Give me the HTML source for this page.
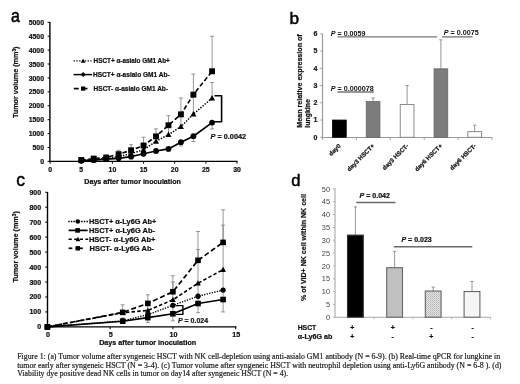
<!DOCTYPE html>
<html><head><meta charset="utf-8"><style>
html,body{margin:0;padding:0;background:#fff;width:520px;height:384px;overflow:hidden}
svg{display:block;filter:blur(0.4px)}
text.b{stroke:#111;stroke-width:0.22px}
</style></head><body>
<svg width="520" height="384" viewBox="0 0 520 384">
<defs><pattern id="stip" width="2" height="2" patternUnits="userSpaceOnUse"><rect width="2" height="2" fill="#e4e4e4"/><rect width="1" height="1" fill="#b4b4b4"/><rect x="1" y="1" width="1" height="1" fill="#c4c4c4"/></pattern></defs>
<rect width="520" height="384" fill="#fff"/>
<text x="10.90" y="21.70" font-size="18.5" font-weight="normal" text-anchor="start" fill="#000" font-family='"Liberation Sans", sans-serif' transform="translate(10.9 0) scale(0.86 1) translate(-10.9 0)" stroke="#000" stroke-width="0.55">a</text>
<line x1="49.90" y1="22.00" x2="49.90" y2="162.00" stroke="#000" stroke-width="1.4" stroke-linecap="butt"/>
<line x1="49.40" y1="161.40" x2="237.50" y2="161.40" stroke="#000" stroke-width="1.4" stroke-linecap="butt"/>
<line x1="47.60" y1="161.40" x2="49.90" y2="161.40" stroke="#000" stroke-width="1" stroke-linecap="butt"/>
<text x="44.00" y="164.00" font-size="6.9" font-weight="bold" text-anchor="end" fill="#111" font-family='"Liberation Sans", sans-serif' class="b" >0</text>
<line x1="47.60" y1="147.49" x2="49.90" y2="147.49" stroke="#000" stroke-width="1" stroke-linecap="butt"/>
<text x="44.00" y="150.09" font-size="6.9" font-weight="bold" text-anchor="end" fill="#111" font-family='"Liberation Sans", sans-serif' class="b" >500</text>
<line x1="47.60" y1="133.58" x2="49.90" y2="133.58" stroke="#000" stroke-width="1" stroke-linecap="butt"/>
<text x="44.00" y="136.18" font-size="6.9" font-weight="bold" text-anchor="end" fill="#111" font-family='"Liberation Sans", sans-serif' class="b" >1000</text>
<line x1="47.60" y1="119.67" x2="49.90" y2="119.67" stroke="#000" stroke-width="1" stroke-linecap="butt"/>
<text x="44.00" y="122.27" font-size="6.9" font-weight="bold" text-anchor="end" fill="#111" font-family='"Liberation Sans", sans-serif' class="b" >1500</text>
<line x1="47.60" y1="105.76" x2="49.90" y2="105.76" stroke="#000" stroke-width="1" stroke-linecap="butt"/>
<text x="44.00" y="108.36" font-size="6.9" font-weight="bold" text-anchor="end" fill="#111" font-family='"Liberation Sans", sans-serif' class="b" >2000</text>
<line x1="47.60" y1="91.85" x2="49.90" y2="91.85" stroke="#000" stroke-width="1" stroke-linecap="butt"/>
<text x="44.00" y="94.45" font-size="6.9" font-weight="bold" text-anchor="end" fill="#111" font-family='"Liberation Sans", sans-serif' class="b" >2500</text>
<line x1="47.60" y1="77.94" x2="49.90" y2="77.94" stroke="#000" stroke-width="1" stroke-linecap="butt"/>
<text x="44.00" y="80.54" font-size="6.9" font-weight="bold" text-anchor="end" fill="#111" font-family='"Liberation Sans", sans-serif' class="b" >3000</text>
<line x1="47.60" y1="64.03" x2="49.90" y2="64.03" stroke="#000" stroke-width="1" stroke-linecap="butt"/>
<text x="44.00" y="66.63" font-size="6.9" font-weight="bold" text-anchor="end" fill="#111" font-family='"Liberation Sans", sans-serif' class="b" >3500</text>
<line x1="47.60" y1="50.12" x2="49.90" y2="50.12" stroke="#000" stroke-width="1" stroke-linecap="butt"/>
<text x="44.00" y="52.72" font-size="6.9" font-weight="bold" text-anchor="end" fill="#111" font-family='"Liberation Sans", sans-serif' class="b" >4000</text>
<line x1="47.60" y1="36.21" x2="49.90" y2="36.21" stroke="#000" stroke-width="1" stroke-linecap="butt"/>
<text x="44.00" y="38.81" font-size="6.9" font-weight="bold" text-anchor="end" fill="#111" font-family='"Liberation Sans", sans-serif' class="b" >4500</text>
<line x1="47.60" y1="22.30" x2="49.90" y2="22.30" stroke="#000" stroke-width="1" stroke-linecap="butt"/>
<text x="44.00" y="24.90" font-size="6.9" font-weight="bold" text-anchor="end" fill="#111" font-family='"Liberation Sans", sans-serif' class="b" >5000</text>
<line x1="50.10" y1="161.40" x2="50.10" y2="163.70" stroke="#000" stroke-width="1" stroke-linecap="butt"/>
<text x="50.10" y="172.30" font-size="6.9" font-weight="bold" text-anchor="middle" fill="#111" font-family='"Liberation Sans", sans-serif' class="b" >0</text>
<line x1="81.25" y1="161.40" x2="81.25" y2="163.70" stroke="#000" stroke-width="1" stroke-linecap="butt"/>
<text x="81.25" y="172.30" font-size="6.9" font-weight="bold" text-anchor="middle" fill="#111" font-family='"Liberation Sans", sans-serif' class="b" >5</text>
<line x1="112.40" y1="161.40" x2="112.40" y2="163.70" stroke="#000" stroke-width="1" stroke-linecap="butt"/>
<text x="112.40" y="172.30" font-size="6.9" font-weight="bold" text-anchor="middle" fill="#111" font-family='"Liberation Sans", sans-serif' class="b" >10</text>
<line x1="143.55" y1="161.40" x2="143.55" y2="163.70" stroke="#000" stroke-width="1" stroke-linecap="butt"/>
<text x="143.55" y="172.30" font-size="6.9" font-weight="bold" text-anchor="middle" fill="#111" font-family='"Liberation Sans", sans-serif' class="b" >15</text>
<line x1="174.70" y1="161.40" x2="174.70" y2="163.70" stroke="#000" stroke-width="1" stroke-linecap="butt"/>
<text x="174.70" y="172.30" font-size="6.9" font-weight="bold" text-anchor="middle" fill="#111" font-family='"Liberation Sans", sans-serif' class="b" >20</text>
<line x1="205.85" y1="161.40" x2="205.85" y2="163.70" stroke="#000" stroke-width="1" stroke-linecap="butt"/>
<text x="205.85" y="172.30" font-size="6.9" font-weight="bold" text-anchor="middle" fill="#111" font-family='"Liberation Sans", sans-serif' class="b" >25</text>
<line x1="237.00" y1="161.40" x2="237.00" y2="163.70" stroke="#000" stroke-width="1" stroke-linecap="butt"/>
<text x="237.00" y="172.30" font-size="6.9" font-weight="bold" text-anchor="middle" fill="#111" font-family='"Liberation Sans", sans-serif' class="b" >30</text>
<text x="84.30" y="184.40" font-size="7.1" font-weight="bold" text-anchor="start" fill="#111" font-family='"Liberation Sans", sans-serif' textLength="96.60" lengthAdjust="spacingAndGlyphs" class="b" >Days after tumor inoculation</text>
<text x="18.00" y="118.10" font-size="7" font-weight="bold" text-anchor="start" fill="#111" font-family='"Liberation Sans", sans-serif' textLength="71.60" lengthAdjust="spacingAndGlyphs" transform="rotate(-90 18.00 118.10)" class="b" >Tumor volume (mm<tspan font-size="4.6" dy="-2.4">3</tspan><tspan dy="2.4">)</tspan></text>
<line x1="81.25" y1="160.01" x2="81.25" y2="159.17" stroke="#7e7e7e" stroke-width="0.8" stroke-linecap="butt"/>
<line x1="79.25" y1="159.17" x2="83.25" y2="159.17" stroke="#7e7e7e" stroke-width="0.8" stroke-linecap="butt"/>
<line x1="93.71" y1="158.62" x2="93.71" y2="157.23" stroke="#7e7e7e" stroke-width="0.8" stroke-linecap="butt"/>
<line x1="91.71" y1="157.23" x2="95.71" y2="157.23" stroke="#7e7e7e" stroke-width="0.8" stroke-linecap="butt"/>
<line x1="106.17" y1="157.51" x2="106.17" y2="155.28" stroke="#7e7e7e" stroke-width="0.8" stroke-linecap="butt"/>
<line x1="104.17" y1="155.28" x2="108.17" y2="155.28" stroke="#7e7e7e" stroke-width="0.8" stroke-linecap="butt"/>
<line x1="118.63" y1="154.17" x2="118.63" y2="150.27" stroke="#7e7e7e" stroke-width="0.8" stroke-linecap="butt"/>
<line x1="116.63" y1="150.27" x2="120.63" y2="150.27" stroke="#7e7e7e" stroke-width="0.8" stroke-linecap="butt"/>
<line x1="131.09" y1="150.27" x2="131.09" y2="144.71" stroke="#7e7e7e" stroke-width="0.8" stroke-linecap="butt"/>
<line x1="129.09" y1="144.71" x2="133.09" y2="144.71" stroke="#7e7e7e" stroke-width="0.8" stroke-linecap="butt"/>
<line x1="143.55" y1="145.54" x2="143.55" y2="137.20" stroke="#7e7e7e" stroke-width="0.8" stroke-linecap="butt"/>
<line x1="141.55" y1="137.20" x2="145.55" y2="137.20" stroke="#7e7e7e" stroke-width="0.8" stroke-linecap="butt"/>
<line x1="156.01" y1="136.36" x2="156.01" y2="128.85" stroke="#7e7e7e" stroke-width="0.8" stroke-linecap="butt"/>
<line x1="154.01" y1="128.85" x2="158.01" y2="128.85" stroke="#7e7e7e" stroke-width="0.8" stroke-linecap="butt"/>
<line x1="168.47" y1="125.23" x2="168.47" y2="115.78" stroke="#7e7e7e" stroke-width="0.8" stroke-linecap="butt"/>
<line x1="166.47" y1="115.78" x2="170.47" y2="115.78" stroke="#7e7e7e" stroke-width="0.8" stroke-linecap="butt"/>
<line x1="180.93" y1="114.38" x2="180.93" y2="97.97" stroke="#7e7e7e" stroke-width="0.8" stroke-linecap="butt"/>
<line x1="178.93" y1="97.97" x2="182.93" y2="97.97" stroke="#7e7e7e" stroke-width="0.8" stroke-linecap="butt"/>
<line x1="193.39" y1="94.63" x2="193.39" y2="74.05" stroke="#7e7e7e" stroke-width="0.8" stroke-linecap="butt"/>
<line x1="191.39" y1="74.05" x2="195.39" y2="74.05" stroke="#7e7e7e" stroke-width="0.8" stroke-linecap="butt"/>
<line x1="212.08" y1="71.26" x2="212.08" y2="36.21" stroke="#7e7e7e" stroke-width="0.8" stroke-linecap="butt"/>
<line x1="210.08" y1="36.21" x2="214.08" y2="36.21" stroke="#7e7e7e" stroke-width="0.8" stroke-linecap="butt"/>
<line x1="81.25" y1="160.57" x2="81.25" y2="160.01" stroke="#7e7e7e" stroke-width="0.8" stroke-linecap="butt"/>
<line x1="79.25" y1="160.01" x2="83.25" y2="160.01" stroke="#7e7e7e" stroke-width="0.8" stroke-linecap="butt"/>
<line x1="93.71" y1="159.73" x2="93.71" y2="158.90" stroke="#7e7e7e" stroke-width="0.8" stroke-linecap="butt"/>
<line x1="91.71" y1="158.90" x2="95.71" y2="158.90" stroke="#7e7e7e" stroke-width="0.8" stroke-linecap="butt"/>
<line x1="106.17" y1="158.62" x2="106.17" y2="157.23" stroke="#7e7e7e" stroke-width="0.8" stroke-linecap="butt"/>
<line x1="104.17" y1="157.23" x2="108.17" y2="157.23" stroke="#7e7e7e" stroke-width="0.8" stroke-linecap="butt"/>
<line x1="118.63" y1="156.67" x2="118.63" y2="154.17" stroke="#7e7e7e" stroke-width="0.8" stroke-linecap="butt"/>
<line x1="116.63" y1="154.17" x2="120.63" y2="154.17" stroke="#7e7e7e" stroke-width="0.8" stroke-linecap="butt"/>
<line x1="131.09" y1="153.61" x2="131.09" y2="150.27" stroke="#7e7e7e" stroke-width="0.8" stroke-linecap="butt"/>
<line x1="129.09" y1="150.27" x2="133.09" y2="150.27" stroke="#7e7e7e" stroke-width="0.8" stroke-linecap="butt"/>
<line x1="143.55" y1="149.72" x2="143.55" y2="145.54" stroke="#7e7e7e" stroke-width="0.8" stroke-linecap="butt"/>
<line x1="141.55" y1="145.54" x2="145.55" y2="145.54" stroke="#7e7e7e" stroke-width="0.8" stroke-linecap="butt"/>
<line x1="156.01" y1="141.37" x2="156.01" y2="136.36" stroke="#7e7e7e" stroke-width="0.8" stroke-linecap="butt"/>
<line x1="154.01" y1="136.36" x2="158.01" y2="136.36" stroke="#7e7e7e" stroke-width="0.8" stroke-linecap="butt"/>
<line x1="168.47" y1="134.69" x2="168.47" y2="125.23" stroke="#7e7e7e" stroke-width="0.8" stroke-linecap="butt"/>
<line x1="166.47" y1="125.23" x2="170.47" y2="125.23" stroke="#7e7e7e" stroke-width="0.8" stroke-linecap="butt"/>
<line x1="180.93" y1="126.62" x2="180.93" y2="114.38" stroke="#7e7e7e" stroke-width="0.8" stroke-linecap="butt"/>
<line x1="178.93" y1="114.38" x2="182.93" y2="114.38" stroke="#7e7e7e" stroke-width="0.8" stroke-linecap="butt"/>
<line x1="193.39" y1="114.11" x2="193.39" y2="94.63" stroke="#7e7e7e" stroke-width="0.8" stroke-linecap="butt"/>
<line x1="191.39" y1="94.63" x2="195.39" y2="94.63" stroke="#7e7e7e" stroke-width="0.8" stroke-linecap="butt"/>
<line x1="212.08" y1="98.11" x2="212.08" y2="82.53" stroke="#7e7e7e" stroke-width="0.8" stroke-linecap="butt"/>
<line x1="210.08" y1="82.53" x2="214.08" y2="82.53" stroke="#7e7e7e" stroke-width="0.8" stroke-linecap="butt"/>
<line x1="81.25" y1="160.84" x2="81.25" y2="161.12" stroke="#7e7e7e" stroke-width="0.8" stroke-linecap="butt"/>
<line x1="79.25" y1="161.12" x2="83.25" y2="161.12" stroke="#7e7e7e" stroke-width="0.8" stroke-linecap="butt"/>
<line x1="93.71" y1="160.15" x2="93.71" y2="160.57" stroke="#7e7e7e" stroke-width="0.8" stroke-linecap="butt"/>
<line x1="91.71" y1="160.57" x2="95.71" y2="160.57" stroke="#7e7e7e" stroke-width="0.8" stroke-linecap="butt"/>
<line x1="106.17" y1="159.17" x2="106.17" y2="160.01" stroke="#7e7e7e" stroke-width="0.8" stroke-linecap="butt"/>
<line x1="104.17" y1="160.01" x2="108.17" y2="160.01" stroke="#7e7e7e" stroke-width="0.8" stroke-linecap="butt"/>
<line x1="118.63" y1="158.34" x2="118.63" y2="159.17" stroke="#7e7e7e" stroke-width="0.8" stroke-linecap="butt"/>
<line x1="116.63" y1="159.17" x2="120.63" y2="159.17" stroke="#7e7e7e" stroke-width="0.8" stroke-linecap="butt"/>
<line x1="131.09" y1="156.67" x2="131.09" y2="158.06" stroke="#7e7e7e" stroke-width="0.8" stroke-linecap="butt"/>
<line x1="129.09" y1="158.06" x2="133.09" y2="158.06" stroke="#7e7e7e" stroke-width="0.8" stroke-linecap="butt"/>
<line x1="143.55" y1="153.75" x2="143.55" y2="155.84" stroke="#7e7e7e" stroke-width="0.8" stroke-linecap="butt"/>
<line x1="141.55" y1="155.84" x2="145.55" y2="155.84" stroke="#7e7e7e" stroke-width="0.8" stroke-linecap="butt"/>
<line x1="156.01" y1="150.97" x2="156.01" y2="153.05" stroke="#7e7e7e" stroke-width="0.8" stroke-linecap="butt"/>
<line x1="154.01" y1="153.05" x2="158.01" y2="153.05" stroke="#7e7e7e" stroke-width="0.8" stroke-linecap="butt"/>
<line x1="168.47" y1="148.88" x2="168.47" y2="150.83" stroke="#7e7e7e" stroke-width="0.8" stroke-linecap="butt"/>
<line x1="166.47" y1="150.83" x2="170.47" y2="150.83" stroke="#7e7e7e" stroke-width="0.8" stroke-linecap="butt"/>
<line x1="180.93" y1="142.20" x2="180.93" y2="145.82" stroke="#7e7e7e" stroke-width="0.8" stroke-linecap="butt"/>
<line x1="178.93" y1="145.82" x2="182.93" y2="145.82" stroke="#7e7e7e" stroke-width="0.8" stroke-linecap="butt"/>
<line x1="193.39" y1="136.22" x2="193.39" y2="141.51" stroke="#7e7e7e" stroke-width="0.8" stroke-linecap="butt"/>
<line x1="191.39" y1="141.51" x2="195.39" y2="141.51" stroke="#7e7e7e" stroke-width="0.8" stroke-linecap="butt"/>
<line x1="212.08" y1="122.59" x2="212.08" y2="128.99" stroke="#7e7e7e" stroke-width="0.8" stroke-linecap="butt"/>
<line x1="210.08" y1="128.99" x2="214.08" y2="128.99" stroke="#7e7e7e" stroke-width="0.8" stroke-linecap="butt"/>
<polyline points="81.25,160.84 93.71,160.15 106.17,159.17 118.63,158.34 131.09,156.67 143.55,153.75 156.01,150.97 168.47,148.88 180.93,142.20 193.39,136.22 212.08,122.59" fill="none" stroke="#000" stroke-width="1.7" stroke-linejoin="round"/>
<polyline points="81.25,160.57 93.71,159.73 106.17,158.62 118.63,156.67 131.09,153.61 143.55,149.72 156.01,141.37 168.47,134.69 180.93,126.62 193.39,114.11 212.08,98.11" fill="none" stroke="#000" stroke-width="1.5" stroke-linejoin="round" stroke-dasharray="1.4,1.4"/>
<polyline points="81.25,160.01 93.71,158.62 106.17,157.51 118.63,154.17 131.09,150.27 143.55,145.54 156.01,136.36 168.47,125.23 180.93,114.38 193.39,94.63 212.08,71.26" fill="none" stroke="#000" stroke-width="1.6" stroke-linejoin="round" stroke-dasharray="4.5,2.5"/>
<circle cx="81.25" cy="160.84" r="2.89" fill="#000"/>
<circle cx="93.71" cy="160.15" r="2.89" fill="#000"/>
<circle cx="106.17" cy="159.17" r="2.89" fill="#000"/>
<circle cx="118.63" cy="158.34" r="2.89" fill="#000"/>
<circle cx="131.09" cy="156.67" r="2.89" fill="#000"/>
<circle cx="143.55" cy="153.75" r="2.89" fill="#000"/>
<circle cx="156.01" cy="150.97" r="2.89" fill="#000"/>
<circle cx="168.47" cy="148.88" r="2.89" fill="#000"/>
<circle cx="180.93" cy="142.20" r="2.89" fill="#000"/>
<circle cx="193.39" cy="136.22" r="2.89" fill="#000"/>
<circle cx="212.08" cy="122.59" r="2.89" fill="#000"/>
<polygon points="81.25,157.43 84.24,162.99 78.26,162.99" fill="#000"/>
<polygon points="93.71,156.60 96.70,162.15 90.72,162.15" fill="#000"/>
<polygon points="106.17,155.48 109.16,161.04 103.18,161.04" fill="#000"/>
<polygon points="118.63,153.54 121.62,159.09 115.64,159.09" fill="#000"/>
<polygon points="131.09,150.48 134.08,156.03 128.10,156.03" fill="#000"/>
<polygon points="143.55,146.58 146.54,152.14 140.56,152.14" fill="#000"/>
<polygon points="156.01,138.23 159.00,143.79 153.02,143.79" fill="#000"/>
<polygon points="168.47,131.56 171.46,137.12 165.48,137.12" fill="#000"/>
<polygon points="180.93,123.49 183.92,129.05 177.94,129.05" fill="#000"/>
<polygon points="193.39,110.97 196.38,116.53 190.40,116.53" fill="#000"/>
<polygon points="212.08,94.97 215.07,100.53 209.09,100.53" fill="#000"/>
<rect x="78.30" y="157.06" width="5.90" height="5.90" fill="#000" stroke="none" stroke-width="0" />
<rect x="90.76" y="155.67" width="5.90" height="5.90" fill="#000" stroke="none" stroke-width="0" />
<rect x="103.22" y="154.56" width="5.90" height="5.90" fill="#000" stroke="none" stroke-width="0" />
<rect x="115.68" y="151.22" width="5.90" height="5.90" fill="#000" stroke="none" stroke-width="0" />
<rect x="128.14" y="147.32" width="5.90" height="5.90" fill="#000" stroke="none" stroke-width="0" />
<rect x="140.60" y="142.59" width="5.90" height="5.90" fill="#000" stroke="none" stroke-width="0" />
<rect x="153.06" y="133.41" width="5.90" height="5.90" fill="#000" stroke="none" stroke-width="0" />
<rect x="165.52" y="122.28" width="5.90" height="5.90" fill="#000" stroke="none" stroke-width="0" />
<rect x="177.98" y="111.43" width="5.90" height="5.90" fill="#000" stroke="none" stroke-width="0" />
<rect x="190.44" y="91.68" width="5.90" height="5.90" fill="#000" stroke="none" stroke-width="0" />
<rect x="209.13" y="68.31" width="5.90" height="5.90" fill="#000" stroke="none" stroke-width="0" />
<polyline points="214.50,95.70 221.60,95.70 221.60,121.80 214.50,121.80" fill="none" stroke="#000" stroke-width="1.6" stroke-linejoin="round"/>
<text x="210.60" y="139.00" font-size="7.2" font-weight="bold" text-anchor="start" fill="#111" font-family='"Liberation Sans", sans-serif' textLength="35.50" lengthAdjust="spacingAndGlyphs" class="b" ><tspan font-style="italic">P</tspan> = 0.0042</text>
<line x1="73.60" y1="60.90" x2="91.50" y2="60.90" stroke="#000" stroke-width="1.3" stroke-linecap="butt" stroke-dasharray="1.3,1.5"/>
<polygon points="83.10,58.48 85.41,62.77 80.79,62.77" fill="#000"/>
<line x1="73.60" y1="74.60" x2="92.20" y2="74.60" stroke="#000" stroke-width="1.5" stroke-linecap="butt"/>
<polygon points="83.20,72.10 85.70,74.60 83.20,77.10 80.70,74.60" fill="#000"/>
<line x1="73.80" y1="88.60" x2="78.70" y2="88.60" stroke="#000" stroke-width="1.7" stroke-linecap="butt"/>
<line x1="81.00" y1="88.60" x2="87.50" y2="88.60" stroke="#000" stroke-width="1.7" stroke-linecap="butt"/>
<rect x="81.00" y="86.50" width="4.20" height="4.20" fill="#000" stroke="none" stroke-width="0" />
<text x="93.60" y="63.20" font-size="6.6" font-weight="bold" text-anchor="start" fill="#111" font-family='"Liberation Sans", sans-serif' textLength="76.20" lengthAdjust="spacingAndGlyphs" class="b" >HSCT+ α-asialo GM1 Ab+</text>
<text x="93.00" y="76.90" font-size="6.6" font-weight="bold" text-anchor="start" fill="#111" font-family='"Liberation Sans", sans-serif' textLength="76.60" lengthAdjust="spacingAndGlyphs" class="b" >HSCT+ α-asialo GM1 Ab-</text>
<text x="93.60" y="90.90" font-size="6.6" font-weight="bold" text-anchor="start" fill="#111" font-family='"Liberation Sans", sans-serif' textLength="74.40" lengthAdjust="spacingAndGlyphs" class="b" >HSCT- α-asialo GM1 Ab-</text>
<text x="289.40" y="23.60" font-size="17.2" font-weight="normal" text-anchor="start" fill="#000" font-family='"Liberation Sans", sans-serif' stroke="#000" stroke-width="0.5">b</text>
<line x1="322.50" y1="33.60" x2="322.50" y2="137.80" stroke="#9c9c9c" stroke-width="1.2" stroke-linecap="butt"/>
<line x1="322.50" y1="137.50" x2="492.00" y2="137.50" stroke="#9c9c9c" stroke-width="1.2" stroke-linecap="butt"/>
<line x1="320.30" y1="137.30" x2="322.50" y2="137.30" stroke="#9c9c9c" stroke-width="1" stroke-linecap="butt"/>
<text x="317.30" y="139.70" font-size="7" font-weight="bold" text-anchor="end" fill="#222" font-family='"Liberation Sans", sans-serif' class="b" >0</text>
<line x1="320.30" y1="120.05" x2="322.50" y2="120.05" stroke="#9c9c9c" stroke-width="1" stroke-linecap="butt"/>
<text x="317.30" y="122.45" font-size="7" font-weight="bold" text-anchor="end" fill="#222" font-family='"Liberation Sans", sans-serif' class="b" >1</text>
<line x1="320.30" y1="102.80" x2="322.50" y2="102.80" stroke="#9c9c9c" stroke-width="1" stroke-linecap="butt"/>
<text x="317.30" y="105.20" font-size="7" font-weight="bold" text-anchor="end" fill="#222" font-family='"Liberation Sans", sans-serif' class="b" >2</text>
<line x1="320.30" y1="85.55" x2="322.50" y2="85.55" stroke="#9c9c9c" stroke-width="1" stroke-linecap="butt"/>
<text x="317.30" y="87.95" font-size="7" font-weight="bold" text-anchor="end" fill="#222" font-family='"Liberation Sans", sans-serif' class="b" >3</text>
<line x1="320.30" y1="68.30" x2="322.50" y2="68.30" stroke="#9c9c9c" stroke-width="1" stroke-linecap="butt"/>
<text x="317.30" y="70.70" font-size="7" font-weight="bold" text-anchor="end" fill="#222" font-family='"Liberation Sans", sans-serif' class="b" >4</text>
<line x1="320.30" y1="51.05" x2="322.50" y2="51.05" stroke="#9c9c9c" stroke-width="1" stroke-linecap="butt"/>
<text x="317.30" y="53.45" font-size="7" font-weight="bold" text-anchor="end" fill="#222" font-family='"Liberation Sans", sans-serif' class="b" >5</text>
<line x1="320.30" y1="33.80" x2="322.50" y2="33.80" stroke="#9c9c9c" stroke-width="1" stroke-linecap="butt"/>
<text x="317.30" y="36.20" font-size="7" font-weight="bold" text-anchor="end" fill="#222" font-family='"Liberation Sans", sans-serif' class="b" >6</text>
<line x1="322.50" y1="137.50" x2="322.50" y2="139.80" stroke="#9c9c9c" stroke-width="1" stroke-linecap="butt"/>
<line x1="356.40" y1="137.50" x2="356.40" y2="139.80" stroke="#9c9c9c" stroke-width="1" stroke-linecap="butt"/>
<line x1="390.30" y1="137.50" x2="390.30" y2="139.80" stroke="#9c9c9c" stroke-width="1" stroke-linecap="butt"/>
<line x1="424.20" y1="137.50" x2="424.20" y2="139.80" stroke="#9c9c9c" stroke-width="1" stroke-linecap="butt"/>
<line x1="458.10" y1="137.50" x2="458.10" y2="139.80" stroke="#9c9c9c" stroke-width="1" stroke-linecap="butt"/>
<line x1="492.00" y1="137.50" x2="492.00" y2="139.80" stroke="#9c9c9c" stroke-width="1" stroke-linecap="butt"/>
<rect x="332.55" y="120.05" width="13.70" height="17.25" fill="#000" stroke="#000" stroke-width="0.8" />
<line x1="373.10" y1="101.59" x2="373.10" y2="97.97" stroke="#8a8a8a" stroke-width="0.9" stroke-linecap="butt"/>
<line x1="371.50" y1="97.97" x2="374.70" y2="97.97" stroke="#8a8a8a" stroke-width="0.9" stroke-linecap="butt"/>
<rect x="366.25" y="101.59" width="13.70" height="35.71" fill="#7c7c7c" stroke="#666" stroke-width="0.8" />
<line x1="407.10" y1="104.53" x2="407.10" y2="85.55" stroke="#8a8a8a" stroke-width="0.9" stroke-linecap="butt"/>
<line x1="405.50" y1="85.55" x2="408.70" y2="85.55" stroke="#8a8a8a" stroke-width="0.9" stroke-linecap="butt"/>
<rect x="400.25" y="104.53" width="13.70" height="32.78" fill="#fff" stroke="#8a8a8a" stroke-width="1" />
<line x1="440.90" y1="68.82" x2="440.90" y2="39.84" stroke="#8a8a8a" stroke-width="0.9" stroke-linecap="butt"/>
<line x1="439.30" y1="39.84" x2="442.50" y2="39.84" stroke="#8a8a8a" stroke-width="0.9" stroke-linecap="butt"/>
<rect x="434.05" y="68.82" width="13.70" height="68.48" fill="#7c7c7c" stroke="#666" stroke-width="0.8" />
<line x1="474.70" y1="131.61" x2="474.70" y2="125.23" stroke="#8a8a8a" stroke-width="0.9" stroke-linecap="butt"/>
<line x1="473.10" y1="125.23" x2="476.30" y2="125.23" stroke="#8a8a8a" stroke-width="0.9" stroke-linecap="butt"/>
<rect x="467.85" y="131.61" width="13.70" height="5.69" fill="#fff" stroke="#8a8a8a" stroke-width="1" />
<line x1="337.50" y1="36.90" x2="437.00" y2="36.90" stroke="#777" stroke-width="1.35" stroke-linecap="butt"/>
<line x1="442.00" y1="36.90" x2="472.50" y2="36.90" stroke="#777" stroke-width="1.35" stroke-linecap="butt"/>
<line x1="337.50" y1="92.00" x2="373.80" y2="92.00" stroke="#777" stroke-width="1.35" stroke-linecap="butt"/>
<text x="330.80" y="35.70" font-size="7" font-weight="bold" text-anchor="start" fill="#111" font-family='"Liberation Sans", sans-serif' textLength="34.70" lengthAdjust="spacingAndGlyphs" stroke="none"><tspan font-style="italic">P</tspan> = 0.0059</text>
<text x="443.80" y="35.00" font-size="7" font-weight="bold" text-anchor="start" fill="#111" font-family='"Liberation Sans", sans-serif' textLength="35.00" lengthAdjust="spacingAndGlyphs" stroke="none"><tspan font-style="italic">P</tspan> = 0.0075</text>
<text x="330.80" y="90.70" font-size="7" font-weight="bold" text-anchor="start" fill="#111" font-family='"Liberation Sans", sans-serif' textLength="43.00" lengthAdjust="spacingAndGlyphs" stroke="none"><tspan font-style="italic">P</tspan> = 0.000078</text>
<text x="302.30" y="127.70" font-size="7.0" font-weight="bold" text-anchor="start" fill="#111" font-family='"Liberation Sans", sans-serif' textLength="93.40" lengthAdjust="spacingAndGlyphs" transform="rotate(-90 302.30 127.70)" class="b" >Mean relative expression of</text>
<text x="310.10" y="127.70" font-size="7.0" font-weight="bold" text-anchor="start" fill="#111" font-family='"Liberation Sans", sans-serif' textLength="28.50" lengthAdjust="spacingAndGlyphs" transform="rotate(-90 310.10 127.70)" class="b" >lungkine</text>
<text x="341.20" y="146.30" font-size="6.15" font-weight="bold" text-anchor="end" fill="#111" font-family='"Liberation Sans", sans-serif' transform="rotate(-45 341.20 146.30)" class="b" >day0</text>
<text x="374.90" y="146.30" font-size="6.15" font-weight="bold" text-anchor="end" fill="#111" font-family='"Liberation Sans", sans-serif' transform="rotate(-45 374.90 146.30)" class="b" >day3 HSCT+</text>
<text x="408.90" y="146.30" font-size="6.15" font-weight="bold" text-anchor="end" fill="#111" font-family='"Liberation Sans", sans-serif' transform="rotate(-45 408.90 146.30)" class="b" >day3 HSCT-</text>
<text x="442.70" y="146.30" font-size="6.15" font-weight="bold" text-anchor="end" fill="#111" font-family='"Liberation Sans", sans-serif' transform="rotate(-45 442.70 146.30)" class="b" >day6 HSCT+</text>
<text x="476.50" y="146.30" font-size="6.15" font-weight="bold" text-anchor="end" fill="#111" font-family='"Liberation Sans", sans-serif' transform="rotate(-45 476.50 146.30)" class="b" >day6 HSCT-</text>
<text x="16.30" y="185.50" font-size="17.5" font-weight="normal" text-anchor="start" fill="#000" font-family='"Liberation Sans", sans-serif' stroke="#000" stroke-width="0.5">c</text>
<line x1="47.50" y1="192.00" x2="47.50" y2="327.50" stroke="#000" stroke-width="1.4" stroke-linecap="butt"/>
<line x1="47.00" y1="326.90" x2="236.50" y2="326.90" stroke="#000" stroke-width="1.4" stroke-linecap="butt"/>
<line x1="45.20" y1="326.90" x2="47.50" y2="326.90" stroke="#000" stroke-width="1" stroke-linecap="butt"/>
<text x="41.10" y="329.40" font-size="7.0" font-weight="bold" text-anchor="end" fill="#111" font-family='"Liberation Sans", sans-serif' class="b" >0</text>
<line x1="45.20" y1="311.94" x2="47.50" y2="311.94" stroke="#000" stroke-width="1" stroke-linecap="butt"/>
<text x="41.10" y="314.44" font-size="7.0" font-weight="bold" text-anchor="end" fill="#111" font-family='"Liberation Sans", sans-serif' class="b" >100</text>
<line x1="45.20" y1="296.98" x2="47.50" y2="296.98" stroke="#000" stroke-width="1" stroke-linecap="butt"/>
<text x="41.10" y="299.48" font-size="7.0" font-weight="bold" text-anchor="end" fill="#111" font-family='"Liberation Sans", sans-serif' class="b" >200</text>
<line x1="45.20" y1="282.02" x2="47.50" y2="282.02" stroke="#000" stroke-width="1" stroke-linecap="butt"/>
<text x="41.10" y="284.52" font-size="7.0" font-weight="bold" text-anchor="end" fill="#111" font-family='"Liberation Sans", sans-serif' class="b" >300</text>
<line x1="45.20" y1="267.06" x2="47.50" y2="267.06" stroke="#000" stroke-width="1" stroke-linecap="butt"/>
<text x="41.10" y="269.56" font-size="7.0" font-weight="bold" text-anchor="end" fill="#111" font-family='"Liberation Sans", sans-serif' class="b" >400</text>
<line x1="45.20" y1="252.10" x2="47.50" y2="252.10" stroke="#000" stroke-width="1" stroke-linecap="butt"/>
<text x="41.10" y="254.60" font-size="7.0" font-weight="bold" text-anchor="end" fill="#111" font-family='"Liberation Sans", sans-serif' class="b" >500</text>
<line x1="45.20" y1="237.14" x2="47.50" y2="237.14" stroke="#000" stroke-width="1" stroke-linecap="butt"/>
<text x="41.10" y="239.64" font-size="7.0" font-weight="bold" text-anchor="end" fill="#111" font-family='"Liberation Sans", sans-serif' class="b" >600</text>
<line x1="45.20" y1="222.18" x2="47.50" y2="222.18" stroke="#000" stroke-width="1" stroke-linecap="butt"/>
<text x="41.10" y="224.68" font-size="7.0" font-weight="bold" text-anchor="end" fill="#111" font-family='"Liberation Sans", sans-serif' class="b" >700</text>
<line x1="45.20" y1="207.22" x2="47.50" y2="207.22" stroke="#000" stroke-width="1" stroke-linecap="butt"/>
<text x="41.10" y="209.72" font-size="7.0" font-weight="bold" text-anchor="end" fill="#111" font-family='"Liberation Sans", sans-serif' class="b" >800</text>
<line x1="45.20" y1="192.26" x2="47.50" y2="192.26" stroke="#000" stroke-width="1" stroke-linecap="butt"/>
<text x="41.10" y="194.76" font-size="7.0" font-weight="bold" text-anchor="end" fill="#111" font-family='"Liberation Sans", sans-serif' class="b" >900</text>
<line x1="47.40" y1="326.90" x2="47.40" y2="329.20" stroke="#000" stroke-width="1" stroke-linecap="butt"/>
<text x="47.90" y="337.00" font-size="7.2" font-weight="bold" text-anchor="middle" fill="#111" font-family='"Liberation Sans", sans-serif' class="b" >0</text>
<line x1="110.15" y1="326.90" x2="110.15" y2="329.20" stroke="#000" stroke-width="1" stroke-linecap="butt"/>
<text x="110.65" y="337.00" font-size="7.2" font-weight="bold" text-anchor="middle" fill="#111" font-family='"Liberation Sans", sans-serif' class="b" >5</text>
<line x1="172.90" y1="326.90" x2="172.90" y2="329.20" stroke="#000" stroke-width="1" stroke-linecap="butt"/>
<text x="173.40" y="337.00" font-size="7.2" font-weight="bold" text-anchor="middle" fill="#111" font-family='"Liberation Sans", sans-serif' class="b" >10</text>
<line x1="235.65" y1="326.90" x2="235.65" y2="329.20" stroke="#000" stroke-width="1" stroke-linecap="butt"/>
<text x="236.15" y="337.00" font-size="7.2" font-weight="bold" text-anchor="middle" fill="#111" font-family='"Liberation Sans", sans-serif' class="b" >15</text>
<text x="99.20" y="345.00" font-size="7" font-weight="bold" text-anchor="start" fill="#111" font-family='"Liberation Sans", sans-serif' textLength="97.00" lengthAdjust="spacingAndGlyphs" class="b" >Days after tumor inoculation</text>
<text x="18.30" y="282.60" font-size="7" font-weight="bold" text-anchor="start" fill="#111" font-family='"Liberation Sans", sans-serif' textLength="71.40" lengthAdjust="spacingAndGlyphs" transform="rotate(-90 18.30 282.60)" class="b" >Tumor volume (mm<tspan font-size="4.6" dy="-2.4">3</tspan><tspan dy="2.4">)</tspan></text>
<line x1="122.70" y1="312.39" x2="122.70" y2="304.76" stroke="#7e7e7e" stroke-width="0.8" stroke-linecap="butt"/>
<line x1="120.70" y1="304.76" x2="124.70" y2="304.76" stroke="#7e7e7e" stroke-width="0.8" stroke-linecap="butt"/>
<line x1="147.80" y1="303.41" x2="147.80" y2="294.74" stroke="#7e7e7e" stroke-width="0.8" stroke-linecap="butt"/>
<line x1="145.80" y1="294.74" x2="149.80" y2="294.74" stroke="#7e7e7e" stroke-width="0.8" stroke-linecap="butt"/>
<line x1="172.90" y1="291.74" x2="172.90" y2="275.74" stroke="#7e7e7e" stroke-width="0.8" stroke-linecap="butt"/>
<line x1="170.90" y1="275.74" x2="174.90" y2="275.74" stroke="#7e7e7e" stroke-width="0.8" stroke-linecap="butt"/>
<line x1="198.00" y1="260.33" x2="198.00" y2="231.46" stroke="#7e7e7e" stroke-width="0.8" stroke-linecap="butt"/>
<line x1="196.00" y1="231.46" x2="200.00" y2="231.46" stroke="#7e7e7e" stroke-width="0.8" stroke-linecap="butt"/>
<line x1="223.10" y1="242.38" x2="223.10" y2="209.76" stroke="#7e7e7e" stroke-width="0.8" stroke-linecap="butt"/>
<line x1="221.10" y1="209.76" x2="225.10" y2="209.76" stroke="#7e7e7e" stroke-width="0.8" stroke-linecap="butt"/>
<line x1="122.70" y1="312.69" x2="122.70" y2="312.39" stroke="#7e7e7e" stroke-width="0.8" stroke-linecap="butt"/>
<line x1="120.70" y1="312.39" x2="124.70" y2="312.39" stroke="#7e7e7e" stroke-width="0.8" stroke-linecap="butt"/>
<line x1="147.80" y1="310.44" x2="147.80" y2="303.41" stroke="#7e7e7e" stroke-width="0.8" stroke-linecap="butt"/>
<line x1="145.80" y1="303.41" x2="149.80" y2="303.41" stroke="#7e7e7e" stroke-width="0.8" stroke-linecap="butt"/>
<line x1="172.90" y1="299.82" x2="172.90" y2="282.02" stroke="#7e7e7e" stroke-width="0.8" stroke-linecap="butt"/>
<line x1="170.90" y1="282.02" x2="174.90" y2="282.02" stroke="#7e7e7e" stroke-width="0.8" stroke-linecap="butt"/>
<line x1="198.00" y1="283.22" x2="198.00" y2="249.56" stroke="#7e7e7e" stroke-width="0.8" stroke-linecap="butt"/>
<line x1="196.00" y1="249.56" x2="200.00" y2="249.56" stroke="#7e7e7e" stroke-width="0.8" stroke-linecap="butt"/>
<line x1="223.10" y1="269.60" x2="223.10" y2="225.17" stroke="#7e7e7e" stroke-width="0.8" stroke-linecap="butt"/>
<line x1="221.10" y1="225.17" x2="225.10" y2="225.17" stroke="#7e7e7e" stroke-width="0.8" stroke-linecap="butt"/>
<line x1="122.70" y1="320.92" x2="122.70" y2="317.92" stroke="#7e7e7e" stroke-width="0.8" stroke-linecap="butt"/>
<line x1="120.70" y1="317.92" x2="124.70" y2="317.92" stroke="#7e7e7e" stroke-width="0.8" stroke-linecap="butt"/>
<line x1="147.80" y1="314.63" x2="147.80" y2="310.44" stroke="#7e7e7e" stroke-width="0.8" stroke-linecap="butt"/>
<line x1="145.80" y1="310.44" x2="149.80" y2="310.44" stroke="#7e7e7e" stroke-width="0.8" stroke-linecap="butt"/>
<line x1="172.90" y1="305.36" x2="172.90" y2="299.82" stroke="#7e7e7e" stroke-width="0.8" stroke-linecap="butt"/>
<line x1="170.90" y1="299.82" x2="174.90" y2="299.82" stroke="#7e7e7e" stroke-width="0.8" stroke-linecap="butt"/>
<line x1="198.00" y1="296.23" x2="198.00" y2="283.22" stroke="#7e7e7e" stroke-width="0.8" stroke-linecap="butt"/>
<line x1="196.00" y1="283.22" x2="200.00" y2="283.22" stroke="#7e7e7e" stroke-width="0.8" stroke-linecap="butt"/>
<line x1="223.10" y1="290.10" x2="223.10" y2="269.45" stroke="#7e7e7e" stroke-width="0.8" stroke-linecap="butt"/>
<line x1="221.10" y1="269.45" x2="225.10" y2="269.45" stroke="#7e7e7e" stroke-width="0.8" stroke-linecap="butt"/>
<line x1="122.70" y1="321.22" x2="122.70" y2="319.42" stroke="#7e7e7e" stroke-width="0.8" stroke-linecap="butt"/>
<line x1="120.70" y1="319.42" x2="124.70" y2="319.42" stroke="#7e7e7e" stroke-width="0.8" stroke-linecap="butt"/>
<line x1="147.80" y1="317.62" x2="147.80" y2="314.63" stroke="#7e7e7e" stroke-width="0.8" stroke-linecap="butt"/>
<line x1="145.80" y1="314.63" x2="149.80" y2="314.63" stroke="#7e7e7e" stroke-width="0.8" stroke-linecap="butt"/>
<line x1="172.90" y1="313.74" x2="172.90" y2="305.36" stroke="#7e7e7e" stroke-width="0.8" stroke-linecap="butt"/>
<line x1="170.90" y1="305.36" x2="174.90" y2="305.36" stroke="#7e7e7e" stroke-width="0.8" stroke-linecap="butt"/>
<line x1="198.00" y1="303.56" x2="198.00" y2="296.23" stroke="#7e7e7e" stroke-width="0.8" stroke-linecap="butt"/>
<line x1="196.00" y1="296.23" x2="200.00" y2="296.23" stroke="#7e7e7e" stroke-width="0.8" stroke-linecap="butt"/>
<line x1="223.10" y1="299.52" x2="223.10" y2="290.10" stroke="#7e7e7e" stroke-width="0.8" stroke-linecap="butt"/>
<line x1="221.10" y1="290.10" x2="225.10" y2="290.10" stroke="#7e7e7e" stroke-width="0.8" stroke-linecap="butt"/>
<line x1="147.80" y1="317.62" x2="147.80" y2="322.41" stroke="#7e7e7e" stroke-width="0.8" stroke-linecap="butt"/>
<line x1="145.80" y1="322.41" x2="149.80" y2="322.41" stroke="#7e7e7e" stroke-width="0.8" stroke-linecap="butt"/>
<line x1="172.90" y1="313.74" x2="172.90" y2="320.92" stroke="#7e7e7e" stroke-width="0.8" stroke-linecap="butt"/>
<line x1="170.90" y1="320.92" x2="174.90" y2="320.92" stroke="#7e7e7e" stroke-width="0.8" stroke-linecap="butt"/>
<line x1="198.00" y1="303.56" x2="198.00" y2="312.69" stroke="#7e7e7e" stroke-width="0.8" stroke-linecap="butt"/>
<line x1="196.00" y1="312.69" x2="200.00" y2="312.69" stroke="#7e7e7e" stroke-width="0.8" stroke-linecap="butt"/>
<line x1="223.10" y1="299.52" x2="223.10" y2="311.94" stroke="#7e7e7e" stroke-width="0.8" stroke-linecap="butt"/>
<line x1="221.10" y1="311.94" x2="225.10" y2="311.94" stroke="#7e7e7e" stroke-width="0.8" stroke-linecap="butt"/>
<polyline points="47.40,326.90 122.70,321.22 147.80,317.62 172.90,313.74 198.00,303.56 223.10,299.52" fill="none" stroke="#000" stroke-width="1.6" stroke-linejoin="round"/>
<polyline points="47.40,326.90 122.70,320.92 147.80,314.63 172.90,305.36 198.00,296.23 223.10,290.10" fill="none" stroke="#000" stroke-width="1.4" stroke-linejoin="round" stroke-dasharray="1.3,1.3"/>
<polyline points="47.40,326.90 122.70,312.69 147.80,310.44 172.90,299.82 198.00,283.22 223.10,269.60" fill="none" stroke="#000" stroke-width="1.6" stroke-linejoin="round" stroke-dasharray="3.5,2.2"/>
<polyline points="47.40,326.90 122.70,312.39 147.80,303.41 172.90,291.74 198.00,260.33 223.10,242.38" fill="none" stroke="#000" stroke-width="1.7" stroke-linejoin="round" stroke-dasharray="5,2.8"/>
<rect x="44.60" y="324.10" width="5.60" height="5.60" fill="#000" stroke="none" stroke-width="0" />
<rect x="119.90" y="318.42" width="5.60" height="5.60" fill="#000" stroke="none" stroke-width="0" />
<rect x="145.00" y="314.82" width="5.60" height="5.60" fill="#000" stroke="none" stroke-width="0" />
<rect x="170.10" y="310.94" width="5.60" height="5.60" fill="#000" stroke="none" stroke-width="0" />
<rect x="195.20" y="300.76" width="5.60" height="5.60" fill="#000" stroke="none" stroke-width="0" />
<rect x="220.30" y="296.72" width="5.60" height="5.60" fill="#000" stroke="none" stroke-width="0" />
<circle cx="47.40" cy="326.90" r="2.65" fill="#000"/>
<circle cx="122.70" cy="320.92" r="2.65" fill="#000"/>
<circle cx="147.80" cy="314.63" r="2.65" fill="#000"/>
<circle cx="172.90" cy="305.36" r="2.65" fill="#000"/>
<circle cx="198.00" cy="296.23" r="2.65" fill="#000"/>
<circle cx="223.10" cy="290.10" r="2.65" fill="#000"/>
<polygon points="47.40,323.93 50.23,329.19 44.56,329.19" fill="#000"/>
<polygon points="122.70,309.72 125.54,314.98 119.87,314.98" fill="#000"/>
<polygon points="147.80,307.47 150.64,312.74 144.97,312.74" fill="#000"/>
<polygon points="172.90,296.85 175.74,302.12 170.06,302.12" fill="#000"/>
<polygon points="198.00,280.25 200.84,285.51 195.17,285.51" fill="#000"/>
<polygon points="223.10,266.63 225.94,271.90 220.27,271.90" fill="#000"/>
<rect x="44.60" y="324.10" width="5.60" height="5.60" fill="#000" stroke="none" stroke-width="0" />
<rect x="119.90" y="309.59" width="5.60" height="5.60" fill="#000" stroke="none" stroke-width="0" />
<rect x="145.00" y="300.61" width="5.60" height="5.60" fill="#000" stroke="none" stroke-width="0" />
<rect x="170.10" y="288.94" width="5.60" height="5.60" fill="#000" stroke="none" stroke-width="0" />
<rect x="195.20" y="257.53" width="5.60" height="5.60" fill="#000" stroke="none" stroke-width="0" />
<rect x="220.30" y="239.58" width="5.60" height="5.60" fill="#000" stroke="none" stroke-width="0" />
<polyline points="176.00,305.60 182.90,305.60 182.90,314.40 176.00,314.40" fill="none" stroke="#000" stroke-width="1.4" stroke-linejoin="round"/>
<text x="178.00" y="322.60" font-size="7.4" font-weight="bold" text-anchor="start" fill="#111" font-family='"Liberation Sans", sans-serif' textLength="30.10" lengthAdjust="spacingAndGlyphs" class="b" ><tspan font-style="italic">P</tspan> = 0.024</text>
<line x1="68.20" y1="221.60" x2="88.00" y2="221.60" stroke="#000" stroke-width="1.5" stroke-linecap="butt" stroke-dasharray="1.5,1.1"/>
<circle cx="77.80" cy="221.60" r="2.25" fill="#000"/>
<line x1="68.60" y1="230.40" x2="87.60" y2="230.40" stroke="#000" stroke-width="1.7" stroke-linecap="butt"/>
<rect x="75.30" y="228.10" width="4.60" height="4.60" fill="#000" stroke="none" stroke-width="0" />
<line x1="68.60" y1="239.30" x2="88.20" y2="239.30" stroke="#000" stroke-width="1.6" stroke-linecap="butt" stroke-dasharray="3.2,2.4"/>
<polygon points="78.00,236.77 80.42,241.26 75.58,241.26" fill="#000"/>
<line x1="68.60" y1="248.30" x2="72.30" y2="248.30" stroke="#000" stroke-width="1.7" stroke-linecap="butt"/>
<line x1="75.50" y1="248.30" x2="82.80" y2="248.30" stroke="#000" stroke-width="1.7" stroke-linecap="butt"/>
<rect x="75.60" y="246.10" width="4.40" height="4.40" fill="#000" stroke="none" stroke-width="0" />
<text x="88.90" y="223.80" font-size="7.3" font-weight="bold" text-anchor="start" fill="#111" font-family='"Liberation Sans", sans-serif' textLength="67.50" lengthAdjust="spacingAndGlyphs" class="b" >HSCT+ α-Ly6G Ab+</text>
<text x="88.90" y="232.60" font-size="7.3" font-weight="bold" text-anchor="start" fill="#111" font-family='"Liberation Sans", sans-serif' textLength="66.00" lengthAdjust="spacingAndGlyphs" class="b" >HSCT+ α-Ly6G Ab-</text>
<text x="88.90" y="241.50" font-size="7.3" font-weight="bold" text-anchor="start" fill="#111" font-family='"Liberation Sans", sans-serif' textLength="66.50" lengthAdjust="spacingAndGlyphs" class="b" >HSCT- α-Ly6G Ab+</text>
<text x="89.50" y="250.50" font-size="7.3" font-weight="bold" text-anchor="start" fill="#111" font-family='"Liberation Sans", sans-serif' textLength="64.50" lengthAdjust="spacingAndGlyphs" class="b" >HSCT- α-Ly6G Ab-</text>
<text x="291.30" y="185.50" font-size="16.6" font-weight="normal" text-anchor="start" fill="#000" font-family='"Liberation Sans", sans-serif' stroke="#000" stroke-width="0.5">d</text>
<line x1="335.00" y1="188.30" x2="335.00" y2="317.50" stroke="#a8a8a8" stroke-width="1.1" stroke-linecap="butt"/>
<line x1="335.00" y1="317.20" x2="490.50" y2="317.20" stroke="#a8a8a8" stroke-width="1.1" stroke-linecap="butt"/>
<line x1="333.00" y1="317.20" x2="335.00" y2="317.20" stroke="#a8a8a8" stroke-width="0.9" stroke-linecap="butt"/>
<text x="330.00" y="319.80" font-size="7.4" font-weight="normal" text-anchor="end" fill="#444" font-family='"Liberation Sans", sans-serif' >0</text>
<line x1="333.00" y1="304.38" x2="335.00" y2="304.38" stroke="#a8a8a8" stroke-width="0.9" stroke-linecap="butt"/>
<text x="330.00" y="306.98" font-size="7.4" font-weight="normal" text-anchor="end" fill="#444" font-family='"Liberation Sans", sans-serif' >5</text>
<line x1="333.00" y1="291.55" x2="335.00" y2="291.55" stroke="#a8a8a8" stroke-width="0.9" stroke-linecap="butt"/>
<text x="330.00" y="294.15" font-size="7.4" font-weight="normal" text-anchor="end" fill="#444" font-family='"Liberation Sans", sans-serif' >10</text>
<line x1="333.00" y1="278.72" x2="335.00" y2="278.72" stroke="#a8a8a8" stroke-width="0.9" stroke-linecap="butt"/>
<text x="330.00" y="281.32" font-size="7.4" font-weight="normal" text-anchor="end" fill="#444" font-family='"Liberation Sans", sans-serif' >15</text>
<line x1="333.00" y1="265.90" x2="335.00" y2="265.90" stroke="#a8a8a8" stroke-width="0.9" stroke-linecap="butt"/>
<text x="330.00" y="268.50" font-size="7.4" font-weight="normal" text-anchor="end" fill="#444" font-family='"Liberation Sans", sans-serif' >20</text>
<line x1="333.00" y1="253.07" x2="335.00" y2="253.07" stroke="#a8a8a8" stroke-width="0.9" stroke-linecap="butt"/>
<text x="330.00" y="255.67" font-size="7.4" font-weight="normal" text-anchor="end" fill="#444" font-family='"Liberation Sans", sans-serif' >25</text>
<line x1="333.00" y1="240.25" x2="335.00" y2="240.25" stroke="#a8a8a8" stroke-width="0.9" stroke-linecap="butt"/>
<text x="330.00" y="242.85" font-size="7.4" font-weight="normal" text-anchor="end" fill="#444" font-family='"Liberation Sans", sans-serif' >30</text>
<line x1="333.00" y1="227.43" x2="335.00" y2="227.43" stroke="#a8a8a8" stroke-width="0.9" stroke-linecap="butt"/>
<text x="330.00" y="230.03" font-size="7.4" font-weight="normal" text-anchor="end" fill="#444" font-family='"Liberation Sans", sans-serif' >35</text>
<line x1="333.00" y1="214.60" x2="335.00" y2="214.60" stroke="#a8a8a8" stroke-width="0.9" stroke-linecap="butt"/>
<text x="330.00" y="217.20" font-size="7.4" font-weight="normal" text-anchor="end" fill="#444" font-family='"Liberation Sans", sans-serif' >40</text>
<line x1="333.00" y1="201.77" x2="335.00" y2="201.77" stroke="#a8a8a8" stroke-width="0.9" stroke-linecap="butt"/>
<text x="330.00" y="204.37" font-size="7.4" font-weight="normal" text-anchor="end" fill="#444" font-family='"Liberation Sans", sans-serif' >45</text>
<line x1="333.00" y1="188.95" x2="335.00" y2="188.95" stroke="#a8a8a8" stroke-width="0.9" stroke-linecap="butt"/>
<text x="330.00" y="191.55" font-size="7.4" font-weight="normal" text-anchor="end" fill="#444" font-family='"Liberation Sans", sans-serif' >50</text>
<line x1="373.90" y1="317.20" x2="373.90" y2="319.20" stroke="#a8a8a8" stroke-width="0.9" stroke-linecap="butt"/>
<line x1="412.80" y1="317.20" x2="412.80" y2="319.20" stroke="#a8a8a8" stroke-width="0.9" stroke-linecap="butt"/>
<line x1="451.70" y1="317.20" x2="451.70" y2="319.20" stroke="#a8a8a8" stroke-width="0.9" stroke-linecap="butt"/>
<line x1="490.60" y1="317.20" x2="490.60" y2="319.20" stroke="#a8a8a8" stroke-width="0.9" stroke-linecap="butt"/>
<line x1="355.40" y1="235.12" x2="355.40" y2="206.90" stroke="#8a8a8a" stroke-width="0.9" stroke-linecap="butt"/>
<line x1="353.80" y1="206.90" x2="357.00" y2="206.90" stroke="#8a8a8a" stroke-width="0.9" stroke-linecap="butt"/>
<rect x="347.50" y="235.12" width="15.80" height="82.08" fill="#000" stroke="#333" stroke-width="1.1" />
<line x1="394.60" y1="267.70" x2="394.60" y2="251.28" stroke="#8a8a8a" stroke-width="0.9" stroke-linecap="butt"/>
<line x1="393.00" y1="251.28" x2="396.20" y2="251.28" stroke="#8a8a8a" stroke-width="0.9" stroke-linecap="butt"/>
<rect x="386.70" y="267.70" width="15.80" height="49.50" fill="#c0c0c0" stroke="#666" stroke-width="1.1" />
<line x1="433.20" y1="291.04" x2="433.20" y2="287.19" stroke="#8a8a8a" stroke-width="0.9" stroke-linecap="butt"/>
<line x1="431.60" y1="287.19" x2="434.80" y2="287.19" stroke="#8a8a8a" stroke-width="0.9" stroke-linecap="butt"/>
<rect x="425.30" y="291.04" width="15.80" height="26.16" fill="url(#stip)" stroke="#666" stroke-width="1.1" />
<line x1="472.00" y1="291.55" x2="472.00" y2="281.55" stroke="#8a8a8a" stroke-width="0.9" stroke-linecap="butt"/>
<line x1="470.40" y1="281.55" x2="473.60" y2="281.55" stroke="#8a8a8a" stroke-width="0.9" stroke-linecap="butt"/>
<rect x="464.10" y="291.55" width="15.80" height="25.65" fill="#f5f5f5" stroke="#666" stroke-width="1.1" />
<line x1="356.30" y1="202.60" x2="395.50" y2="202.60" stroke="#6a6a6a" stroke-width="1.5" stroke-linecap="butt"/>
<line x1="393.80" y1="246.70" x2="472.30" y2="246.70" stroke="#6a6a6a" stroke-width="1.5" stroke-linecap="butt"/>
<text x="359.50" y="197.50" font-size="7" font-weight="bold" text-anchor="start" fill="#111" font-family='"Liberation Sans", sans-serif' textLength="30.50" lengthAdjust="spacingAndGlyphs" class="b" ><tspan font-style="italic">P</tspan> = 0.042</text>
<text x="401.50" y="242.30" font-size="7" font-weight="bold" text-anchor="start" fill="#111" font-family='"Liberation Sans", sans-serif' textLength="30.20" lengthAdjust="spacingAndGlyphs" class="b" ><tspan font-style="italic">P</tspan> = 0.023</text>
<text x="306.40" y="301.00" font-size="7.0" font-weight="bold" text-anchor="start" fill="#111" font-family='"Liberation Sans", sans-serif' textLength="107.00" lengthAdjust="spacingAndGlyphs" transform="rotate(-90 306.40 301.00)" class="b" >% of ViD+ NK cell within NK cell</text>
<text x="297.70" y="330.30" font-size="7" font-weight="bold" text-anchor="start" fill="#111" font-family='"Liberation Sans", sans-serif' textLength="18.60" lengthAdjust="spacingAndGlyphs" class="b" >HSCT</text>
<text x="297.70" y="339.20" font-size="7" font-weight="bold" text-anchor="start" fill="#111" font-family='"Liberation Sans", sans-serif' textLength="34.70" lengthAdjust="spacingAndGlyphs" class="b" >α-Ly6G ab</text>
<text x="352.30" y="330.40" font-size="7" font-weight="bold" text-anchor="middle" fill="#111" font-family='"Liberation Sans", sans-serif' class="b" >+</text>
<text x="352.30" y="339.20" font-size="7" font-weight="bold" text-anchor="middle" fill="#111" font-family='"Liberation Sans", sans-serif' class="b" >+</text>
<text x="392.70" y="330.40" font-size="7" font-weight="bold" text-anchor="middle" fill="#111" font-family='"Liberation Sans", sans-serif' class="b" >+</text>
<text x="392.70" y="339.20" font-size="7" font-weight="bold" text-anchor="middle" fill="#111" font-family='"Liberation Sans", sans-serif' class="b" >-</text>
<text x="431.30" y="330.40" font-size="7" font-weight="bold" text-anchor="middle" fill="#111" font-family='"Liberation Sans", sans-serif' class="b" >-</text>
<text x="431.30" y="339.20" font-size="7" font-weight="bold" text-anchor="middle" fill="#111" font-family='"Liberation Sans", sans-serif' class="b" >+</text>
<text x="472.60" y="330.40" font-size="7" font-weight="bold" text-anchor="middle" fill="#111" font-family='"Liberation Sans", sans-serif' class="b" >-</text>
<text x="472.60" y="339.20" font-size="7" font-weight="bold" text-anchor="middle" fill="#111" font-family='"Liberation Sans", sans-serif' class="b" >-</text>
<text x="17.20" y="358.80" font-size="7.85" font-weight="normal" text-anchor="start" fill="#111" font-family='"Liberation Serif", serif' textLength="483.00" lengthAdjust="spacingAndGlyphs" stroke="#222" stroke-width="0.18">Figure 1: (a) Tumor volume after syngeneic HSCT with NK cell-depletion using anti-asialo GM1 antibody (N = 6-9). (b) Real-time qPCR for lungkine in</text>
<text x="17.20" y="367.60" font-size="7.85" font-weight="normal" text-anchor="start" fill="#111" font-family='"Liberation Serif", serif' textLength="484.30" lengthAdjust="spacingAndGlyphs" stroke="#222" stroke-width="0.18">tumor early after syngeneic HSCT (N = 3-4). (c) Tumor volume after syngeneic HSCT with neutrophil depletion using anti-Ly6G antibody (N = 6-8 ). (d)</text>
<text x="17.20" y="376.30" font-size="7.85" font-weight="normal" text-anchor="start" fill="#111" font-family='"Liberation Serif", serif' textLength="270.90" lengthAdjust="spacingAndGlyphs" stroke="#222" stroke-width="0.18">Viability dye positive dead NK cells in tumor on day14 after syngeneic HSCT (N = 4).</text>
</svg>
</body></html>
